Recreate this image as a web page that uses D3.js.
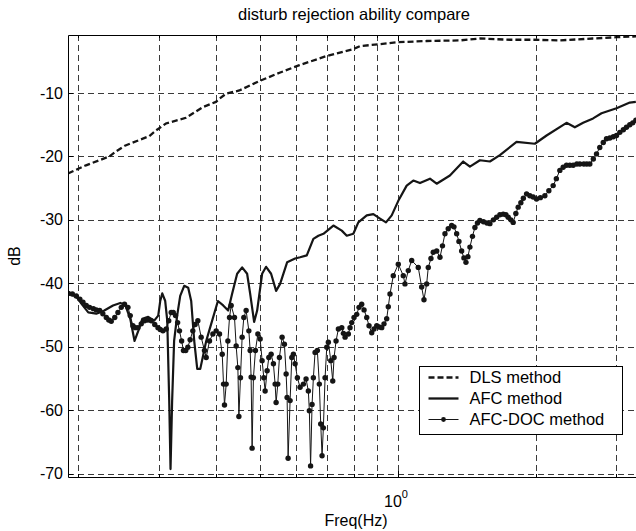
<!DOCTYPE html>
<html>
<head>
<meta charset="utf-8">
<script src="https://cdnjs.cloudflare.com/ajax/libs/d3/7.8.5/d3.min.js"></script>
<style>
body { margin: 0; background: #fff; }
text { font-family: "Liberation Sans", Arial, sans-serif; fill: #000; }
</style>
</head>
<body>
<div id="chart"></div>
<script>
// frequency (Hz) and magnitude (dB)
const dlsFreq = [0.190, 0.208, 0.234, 0.242, 0.253, 0.286, 0.296, 0.311, 0.344, 0.375, 0.400, 0.407, 0.421, 0.450, 0.498, 0.551, 0.609, 0.696, 0.797, 0.826, 0.910, 0.990, 1.155, 1.366, 1.51, 1.756, 1.972, 2.258, 2.666, 3.003, 3.26, 3.38];
const dlsDb = [-22.7, -21.4, -20.0, -19.2, -18.3, -16.8, -15.9, -14.8, -13.9, -12.2, -11.4, -10.9, -10.1, -9.6, -8.1, -6.8, -5.6, -4.2, -3.1, -2.6, -2.3, -2.0, -1.8, -1.7, -1.4, -1.6, -1.6, -1.7, -1.4, -1.2, -1.1, -1.0];

const afcFreq = [0.1904, 0.1981, 0.2042, 0.2104, 0.2191, 0.2281, 0.2383, 0.2472, 0.2534, 0.2599, 0.2656, 0.2706, 0.2761, 0.2845, 0.2932, 0.2992, 0.3022, 0.3053, 0.3099, 0.3131, 0.3162, 0.3183, 0.3209, 0.3241, 0.3291, 0.3342, 0.3410, 0.3479, 0.3532, 0.3586, 0.3641, 0.3697, 0.3809, 0.3866, 0.4040, 0.4149, 0.4254, 0.4341, 0.4451, 0.4564, 0.4680, 0.4751, 0.4848, 0.4922, 0.5047, 0.5149, 0.5280, 0.5415, 0.5525, 0.5723, 0.5958, 0.6109, 0.6319, 0.6532, 0.6699, 0.6870, 0.7224, 0.7535, 0.7727, 0.7987, 0.8190, 0.8544, 0.8833, 0.9136, 0.9414, 0.9688, 1.0015, 1.0447, 1.0800, 1.1170, 1.1746, 1.2148, 1.2987, 1.3885, 1.4361, 1.5101, 1.5882, 1.6700, 1.8159, 1.9912, 2.1120, 2.3350, 2.4350, 2.5388, 2.6696, 2.7852, 3.0034, 3.2107, 3.3098];
const afcDb = [-41.6, -42.1, -43.4, -44.6, -44.8, -44.3, -43.5, -43.1, -43.4, -45.6, -49.1, -47.5, -45.6, -45.3, -45.9, -45.1, -42.8, -41.6, -42.8, -45.9, -58.5, -69.3, -58.5, -49.1, -45.1, -42.0, -40.4, -40.7, -42.8, -49.1, -53.5, -53.5, -49.1, -47.5, -42.8, -43.5, -44.3, -41.6, -38.5, -37.5, -38.5, -41.6, -46.1, -44.3, -38.5, -37.4, -38.5, -41.2, -40.1, -36.7, -36.1, -35.9, -35.6, -33.0, -32.5, -32.2, -30.9, -31.7, -32.5, -32.2, -30.4, -29.3, -29.1, -29.8, -30.4, -29.3, -27.0, -24.6, -23.8, -24.2, -23.5, -24.3, -23.0, -20.8, -21.6, -20.6, -20.8, -19.8, -17.7, -18.0, -16.7, -14.7, -15.4, -14.7, -14.0, -13.2, -12.4, -11.5, -11.4];

const docFreq = [0.1904, 0.1942, 0.1981, 0.2017, 0.2049, 0.2083, 0.2118, 0.2159, 0.2191, 0.2228,
  0.2264, 0.2304, 0.2333, 0.2362, 0.2404, 0.2443, 0.2484, 0.2525, 0.2569, 0.2599,
  0.2634, 0.2666, 0.2702, 0.2747, 0.2793, 0.2839, 0.2889, 0.2940, 0.2988, 0.3022,
  0.3064, 0.3115, 0.3154, 0.3194, 0.3227, 0.3264, 0.3299, 0.3330, 0.3366, 0.3397,
  0.3436, 0.3473, 0.3513, 0.3561, 0.3603, 0.3652, 0.3714, 0.3776, 0.3809, 0.3873,
  0.3939, 0.4005, 0.4073, 0.4129, 0.4156, 0.4176, 0.4212, 0.4248, 0.4283, 0.4319,
  0.4392, 0.4429, 0.4467, 0.4490, 0.4526, 0.4564, 0.4603, 0.4657, 0.4721, 0.4752,
  0.4775, 0.4799, 0.4831, 0.4880, 0.4940, 0.4997, 0.5047, 0.5090, 0.5124, 0.5176,
  0.5220, 0.5281, 0.5342, 0.5388, 0.5415, 0.5461, 0.5506, 0.5581, 0.5646, 0.5695,
  0.5723, 0.5752, 0.5810, 0.5860, 0.5907, 0.5958, 0.6027, 0.6109, 0.6212, 0.6296,
  0.6369, 0.6401, 0.6441, 0.6489, 0.6532, 0.6588, 0.6664, 0.6731, 0.6778, 0.6824,
  0.6869, 0.6928, 0.6987, 0.7044, 0.7130, 0.7201, 0.7249, 0.7322, 0.7408, 0.7535,
  0.7598, 0.7662, 0.7790, 0.7855, 0.7924, 0.8015, 0.8125, 0.8219, 0.8330, 0.8430,
  0.8544, 0.8643, 0.8762, 0.8863, 0.8986, 0.9090, 0.9214, 0.9320, 0.9447, 0.9524,
  0.9605, 0.9766, 1.0015, 1.0270, 1.0358, 1.0531, 1.0713, 1.1074, 1.1265, 1.1397,
  1.1552, 1.1646, 1.1804, 1.1942, 1.2148, 1.2352, 1.2508, 1.2666, 1.2877, 1.3100,
  1.3254, 1.3434, 1.3590, 1.3776, 1.3935, 1.4077, 1.4218, 1.4362, 1.4546, 1.4727,
  1.4916, 1.5101, 1.5374, 1.5647, 1.5882, 1.6163, 1.6427, 1.6700, 1.6981, 1.7211,
  1.7412, 1.7648, 1.7854, 1.8096, 1.8310, 1.8559, 1.8793, 1.9099, 1.9418, 1.9744,
  2.0082, 2.0471, 2.0941, 2.1366, 2.1833, 2.2189, 2.2580, 2.2958, 2.3352, 2.3743,
  2.4146, 2.4600, 2.4974, 2.5480, 2.5867, 2.6258, 2.6726, 2.7156, 2.7606, 2.8099,
  2.8559, 2.9040, 2.9554, 3.0034, 3.0537, 3.1082, 3.1572, 3.2107, 3.2592, 3.3098];
const docDb = [-41.6, -41.7, -42.0, -42.5, -43.0, -43.5, -43.8, -44.0, -44.2, -44.3,
  -44.8, -45.4, -45.8, -46.0, -45.4, -44.6, -43.8, -43.3, -43.8, -45.1,
  -46.7, -47.0, -47.0, -46.4, -45.9, -45.8, -45.9, -46.5, -47.0, -47.3,
  -47.5, -47.2, -45.9, -44.6, -44.6, -45.1, -46.2, -47.5, -49.1, -50.6,
  -50.6, -50.1, -48.9, -47.5, -46.5, -45.9, -48.5, -50.6, -51.7, -49.1,
  -48.0, -47.5, -48.0, -51.2, -55.9, -59.2, -55.9, -49.1, -45.4, -43.5,
  -45.4, -49.9, -53.3, -61.0, -54.9, -48.5, -45.4, -44.3, -47.5, -50.6,
  -54.8, -66.0, -54.9, -50.6, -48.0, -48.8, -52.2, -54.9, -57.0, -53.8,
  -51.7, -51.2, -52.7, -55.9, -58.8, -55.9, -51.7, -48.5, -49.6, -54.3,
  -58.0, -67.6, -58.5, -51.7, -51.2, -52.7, -54.9, -56.4, -55.9, -55.1,
  -57.0, -60.1, -68.8, -59.1, -54.9, -50.9, -50.6, -55.9, -62.2, -67.2,
  -62.8, -54.9, -50.1, -49.3, -52.2, -55.4, -51.7, -49.1, -47.2, -47.0,
  -47.9, -48.5, -48.0, -47.0, -46.2, -45.4, -44.9, -43.8, -43.3, -44.2,
  -45.4, -46.7, -47.8, -47.2, -46.7, -46.9, -47.0, -46.4, -45.6, -43.7,
  -41.7, -38.8, -37.0, -38.8, -40.1, -38.0, -36.4, -37.5, -40.6, -42.6,
  -40.1, -37.5, -36.1, -35.1, -34.9, -35.9, -34.1, -32.2, -31.4, -30.9,
  -31.1, -32.2, -33.4, -34.9, -36.0, -36.7, -35.8, -34.3, -32.6, -31.2,
  -30.5, -30.1, -30.3, -30.5, -30.6, -30.0, -29.6, -29.2, -29.1, -29.2,
  -29.6, -30.0, -30.4, -29.0, -28.0, -27.3, -26.6, -25.9, -26.2, -26.4,
  -26.7, -26.5, -26.2, -25.4, -24.6, -23.5, -22.2, -21.7, -21.4, -21.4,
  -21.4, -21.2, -21.2, -21.2, -21.2, -21.2, -20.4, -19.6, -18.6, -17.8,
  -17.2, -17.1, -16.9, -16.7, -16.2, -15.8, -15.4, -15.0, -14.7, -14.3];

const yTicks = [-70, -60, -50, -40, -30, -20, -10];
const xGrid = [0.2, 0.3, 0.4, 0.5, 0.6, 0.7, 0.8, 0.9, 1, 2, 3];
const legendLabels = ["DLS method", "AFC method", "AFC-DOC method"];

const width = 636, height = 531;
const plotLeft = 68, plotRight = 640, plotTop = 35, plotBottom = 477;

const svg = d3.select("#chart")
    .append("svg")
    .attr("width", width)
    .attr("height", height);

const x = d3.scaleLog().domain([0.19, 3.38]).range([plotLeft, plotRight]);
const y = d3.scaleLinear().domain([-70.55, -0.85]).range([plotBottom, plotTop]);

svg.append("defs").append("clipPath").attr("id", "plot")
    .append("rect")
    .attr("x", plotLeft).attr("y", plotTop)
    .attr("width", plotRight - plotLeft).attr("height", plotBottom - plotTop);

// grid
const grid = svg.append("g")
    .attr("stroke", "#3a3a3a")
    .attr("stroke-width", 1)
    .attr("stroke-dasharray", "6,4");

grid.selectAll(".vg").data(xGrid).enter().append("line")
    .attr("x1", d => Math.round(x(d)) + 0.5).attr("x2", d => Math.round(x(d)) + 0.5)
    .attr("y1", plotTop).attr("y2", plotBottom);

grid.selectAll(".hg").data(yTicks).enter().append("line")
    .attr("x1", plotLeft).attr("x2", plotRight)
    .attr("y1", d => Math.round(y(d)) + 0.5).attr("y2", d => Math.round(y(d)) + 0.5);

// curves
const plot = svg.append("g").attr("clip-path", "url(#plot)");

const line = d3.line().x(d => x(d[0])).y(d => y(d[1]));

const dls = d3.zip(dlsFreq, dlsDb);
const afc = d3.zip(afcFreq, afcDb);
const doc = d3.zip(docFreq, docDb);

plot.append("path")
    .datum(dls)
    .attr("d", line)
    .attr("fill", "none")
    .attr("stroke", "#151515")
    .attr("stroke-width", 2.3)
    .attr("stroke-dasharray", "6,3");

plot.append("path")
    .datum(afc)
    .attr("d", line)
    .attr("fill", "none")
    .attr("stroke", "#151515")
    .attr("stroke-width", 2.2)
    .attr("stroke-linejoin", "round");

plot.append("path")
    .datum(doc)
    .attr("d", line)
    .attr("fill", "none")
    .attr("stroke", "#151515")
    .attr("stroke-width", 1);

plot.selectAll(".dot")
    .data(doc)
    .enter()
    .append("circle")
    .attr("cx", d => x(d[0]))
    .attr("cy", d => y(d[1]))
    .attr("r", 2.7)
    .attr("fill", "#151515");

// frame
const frame = svg.append("g").attr("stroke", "#000").attr("stroke-width", 1).attr("fill", "none");
frame.append("path").attr("d", `M${plotRight},${plotTop + 0.5}H${plotLeft + 0.5}V${plotBottom + 0.5}H${plotRight}`);

// ticks
frame.selectAll(".yt").data(yTicks).enter().append("line")
    .attr("x1", plotLeft).attr("x2", plotLeft + 5)
    .attr("y1", d => Math.round(y(d)) + 0.5).attr("y2", d => Math.round(y(d)) + 0.5);
frame.selectAll(".xt").data(xGrid).enter().append("line")
    .attr("x1", d => Math.round(x(d)) + 0.5).attr("x2", d => Math.round(x(d)) + 0.5)
    .attr("y1", plotBottom).attr("y2", d => d === 1 ? plotBottom - 6 : plotBottom - 3);
frame.selectAll(".xtt").data(xGrid).enter().append("line")
    .attr("x1", d => Math.round(x(d)) + 0.5).attr("x2", d => Math.round(x(d)) + 0.5)
    .attr("y1", plotTop).attr("y2", d => d === 1 ? plotTop + 6 : plotTop + 3);

// tick labels
svg.selectAll(".ylab").data(yTicks).enter().append("text")
    .attr("x", plotLeft - 5)
    .attr("y", d => y(d))
    .attr("dy", "0.35em")
    .attr("text-anchor", "end")
    .style("font-size", "16px")
    .text(d => d);

const xl = svg.append("text")
    .attr("x", x(1) - 2)
    .attr("y", 507)
    .attr("text-anchor", "middle")
    .style("font-size", "16px");
xl.append("tspan").text("10");
xl.append("tspan").attr("dy", -9).style("font-size", "11px").text("0");

// titles
svg.append("text")
    .attr("x", 354).attr("y", 20)
    .attr("text-anchor", "middle")
    .style("font-size", "16.5px")
    .text("disturb rejection ability compare");

svg.append("text")
    .attr("x", 356).attr("y", 526)
    .attr("text-anchor", "middle")
    .style("font-size", "16px")
    .text("Freq(Hz)");

svg.append("text")
    .attr("transform", "translate(20,256) rotate(-90)")
    .attr("text-anchor", "middle")
    .style("font-size", "16px")
    .text("dB");

// legend
const lg = svg.append("g").attr("transform", "translate(419.5,366.5)");
lg.append("rect").attr("width", 203).attr("height", 68)
    .attr("fill", "#fff").attr("stroke", "#000").attr("stroke-width", 1);

const rows = lg.selectAll(".row").data(legendLabels).enter().append("g")
    .attr("transform", (d, i) => `translate(0, ${11 + i * 21})`);

rows.append("line")
    .attr("x1", 9).attr("x2", 39)
    .attr("stroke", "#151515")
    .attr("stroke-width", (d, i) => i === 2 ? 1 : 2.3)
    .attr("stroke-dasharray", (d, i) => i === 0 ? "6,3" : null);

rows.filter((d, i) => i === 2).append("circle")
    .attr("cx", 24).attr("r", 2.4).attr("fill", "#151515");

rows.append("text")
    .attr("x", 50)
    .attr("dy", "0.35em")
    .style("font-size", "16.5px")
    .text(d => d);
</script>
</body>
</html>
